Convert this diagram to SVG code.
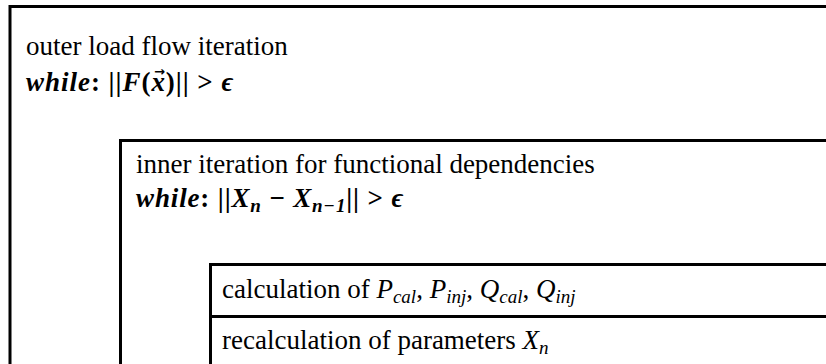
<svg xmlns="http://www.w3.org/2000/svg" width="826" height="364" viewBox="0 0 826 364">
<style>
.box{fill:none;stroke:#000;stroke-width:3}
.t{font-family:"Liberation Serif","Times New Roman",serif;font-size:27px;fill:#000}
.m{font-weight:bold}
.i{font-style:italic}
.s{font-size:19px;font-style:italic}
.v{font-family:"DejaVu Sans",sans-serif;font-size:13px;font-style:normal}
</style>
<rect width="826" height="364" fill="#fff"/>
<g id="outer">
<rect class="box" x="10" y="6.5" width="900" height="500"/>
<text class="t" x="26" y="55">outer load flow iteration</text>
<text class="t m" x="26" y="91" textLength="207" lengthAdjust="spacing"><tspan class="i">while</tspan>: ||<tspan class="i">F</tspan>(<tspan class="i">x</tspan><tspan class="v" dx="-12" dy="-15">→</tspan><tspan dy="15">)|| &gt; </tspan><tspan class="i">ϵ</tspan></text>
</g>
<g id="inner">
<rect class="box" x="120.5" y="140.5" width="800" height="400"/>
<text class="t" x="136" y="173">inner iteration for functional dependencies</text>
<text class="t m" x="136" y="207" textLength="267" lengthAdjust="spacing"><tspan class="i">while</tspan>: ||<tspan class="i">X</tspan><tspan class="s" dy="5">n</tspan><tspan dy="-5"> − </tspan><tspan class="i">X</tspan><tspan class="s" dy="5">n−1</tspan><tspan dy="-5">|| &gt; </tspan><tspan class="i">ϵ</tspan></text>
</g>
<g id="calc">
<rect class="box" x="210.5" y="264.5" width="700" height="52"/>
<text class="t" x="222" y="298">calculation of <tspan class="i">P</tspan><tspan class="s" dy="5">cal</tspan><tspan dy="-5">, </tspan><tspan class="i">P</tspan><tspan class="s" dy="5">inj</tspan><tspan dy="-5">, </tspan><tspan class="i">Q</tspan><tspan class="s" dy="5">cal</tspan><tspan dy="-5">, </tspan><tspan class="i">Q</tspan><tspan class="s" dy="5">inj</tspan></text>
</g>
<g id="recalc">
<rect class="box" x="210.5" y="316.5" width="700" height="100"/>
<text class="t" x="222" y="349">recalculation of parameters <tspan class="i">X</tspan><tspan class="s" dy="5">n</tspan></text>
</g>
</svg>
